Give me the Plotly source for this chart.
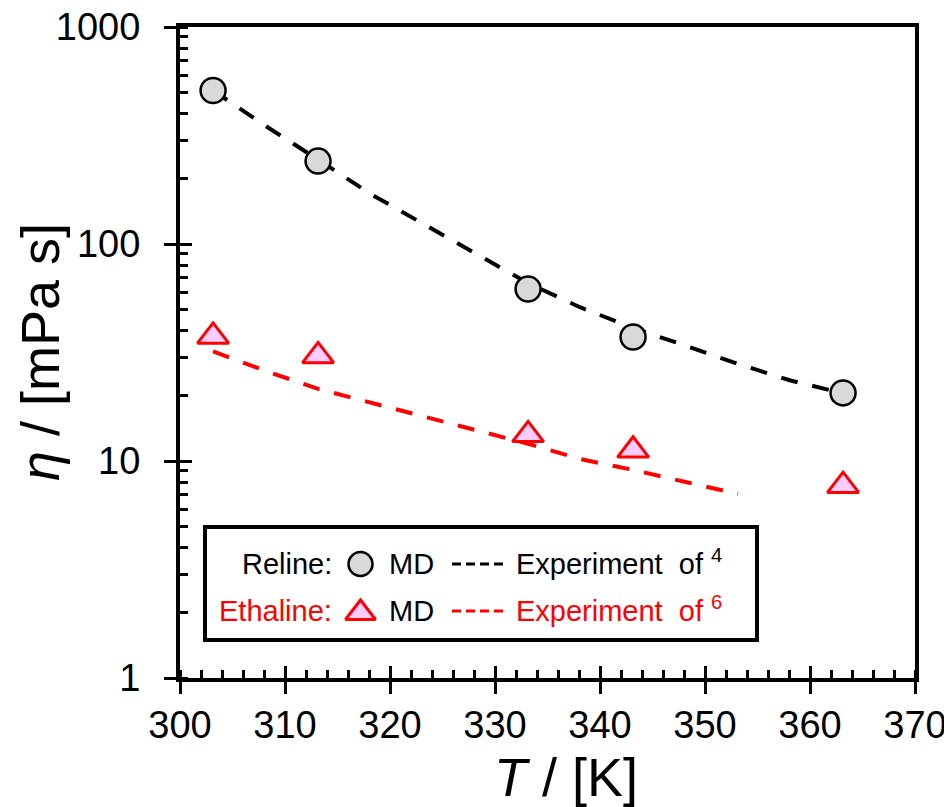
import plotly.graph_objects as go

# ---------------- data ----------------
T_md = [303.15, 313.15, 333.15, 343.15, 363.15]
eta_reline_md = [510, 241, 62, 37.3, 20.6]
eta_ethaline_md = [37.5, 30.5, 13.2, 11.2, 7.7]

T_exp_reline = [303.15, 308.15, 313.15, 318.15, 323.15, 328.15, 333.15,
                338.15, 343.15, 348.15, 353.15, 358.15, 363.15]
eta_exp_reline = [510, 350, 245, 170, 124, 90, 66, 51, 41, 34, 28, 23.5, 20.5]

T_exp_ethaline = [303.15, 308.15, 313.15, 318.15, 323.15, 328.15, 333.15,
                  338.15, 343.15, 348.15, 353.15]
eta_exp_ethaline = [32, 26, 21.5, 18.6, 16, 13.8, 12.0, 10.2, 9.1, 8.0, 7.05]

x_ticks = [300, 310, 320, 330, 340, 350, 360, 370]
y_ticks = [1, 10, 100, 1000]
y_tick_labels = ["1", "10", "100", "1000"]

FONT = "Arial, Liberation Sans, sans-serif"
W, H = 952, 807
OFF = 8                              # page body margin
L, R, T, B = 180, 915, 27, 678       # plot area in screen pixels


def px(x):
    return (x - L) / (R - L)


def py(y):
    return (B - y) / (B - T)


fig = go.Figure()

# experiment lines
fig.add_trace(go.Scatter(x=T_exp_reline, y=eta_exp_reline, mode="lines",
                         line=dict(color="black", width=4, dash="17px,15px"),
                         showlegend=False, hoverinfo="skip"))
fig.add_trace(go.Scatter(x=T_exp_ethaline, y=eta_exp_ethaline, mode="lines",
                         line=dict(color="#ff0000", width=4, dash="17px,15px"),
                         showlegend=False, hoverinfo="skip"))
# MD points
fig.add_trace(go.Scatter(x=T_md, y=eta_reline_md, mode="markers",
                         marker=dict(symbol="circle", size=25, color="#d9d9d9",
                                     line=dict(color="black", width=2.5)),
                         showlegend=False))
fig.add_trace(go.Scatter(x=T_md, y=eta_ethaline_md, mode="markers",
                         marker=dict(symbol="triangle-up", size=27, color="#ffccff",
                                     line=dict(color="#ff0000", width=3)),
                         showlegend=False))

# overlay axes carrying the inner half of the major ticks
fig.add_trace(go.Scatter(x=T_md, y=eta_reline_md, xaxis="x2", yaxis="y2",
                         mode="markers", marker=dict(opacity=0),
                         showlegend=False, hoverinfo="skip"))

# pixel-coordinate axes for the legend box
fig.add_trace(go.Scatter(x=[360.5], y=[564], xaxis="x3", yaxis="y3", mode="markers",
                         marker=dict(symbol="circle", size=24, color="#d9d9d9",
                                     line=dict(color="black", width=2.5)),
                         showlegend=False, hoverinfo="skip"))
fig.add_trace(go.Scatter(x=[360.5], y=[613], xaxis="x3", yaxis="y3", mode="markers",
                         marker=dict(symbol="triangle-up", size=26, color="#ffccff",
                                     line=dict(color="#ff0000", width=3)),
                         showlegend=False, hoverinfo="skip"))
fig.add_trace(go.Scatter(x=[452, 507], y=[564, 564], xaxis="x3", yaxis="y3", mode="lines",
                         line=dict(color="black", width=3, dash="9px,5px"),
                         showlegend=False, hoverinfo="skip"))
fig.add_trace(go.Scatter(x=[452, 507], y=[611, 611], xaxis="x3", yaxis="y3", mode="lines",
                         line=dict(color="#ff0000", width=3, dash="9px,5px"),
                         showlegend=False, hoverinfo="skip"))

fig.add_shape(type="rect", xref="x3", yref="y3", x0=205, x1=757, y0=527, y1=640,
              line=dict(color="black", width=4), fillcolor="white", layer="below")

ann = []


def txt(x, y, s, color="black", xanchor="left", size=29, paper=False, **kw):
    if paper:
        ref = dict(x=px(x), y=py(y), xref="paper", yref="paper")
    else:
        ref = dict(x=x, y=y, xref="x3", yref="y3")
    ann.append(dict(text=s, showarrow=False, xanchor=xanchor, yanchor="middle",
                    font=dict(family=FONT, size=size, color=color), **ref, **kw))


txt(334, 564, "Reline:", xanchor="right")
txt(387, 564, "MD")
txt(514, 562, "Experiment  of <sup>4</sup>")
txt(334, 611, "Ethaline:", color="#ff0000", xanchor="right")
txt(387, 611, "MD")
txt(514, 609, "Experiment  of <sup>6</sup>", color="#ff0000")

# axis titles
txt(566, 777, "<i>T</i> / [K]", xanchor="center", size=54, paper=True)
txt(40, 352, "<i>η</i> / [mPa s]", xanchor="center", size=54, paper=True,
    textangle=-90)

axis_common = dict(showline=True, linecolor="black", linewidth=4, showgrid=False,
                   zeroline=False, ticks="outside", ticklen=12, tickwidth=3,
                   tickcolor="black", automargin=False, ticklabeloverflow="allow",
                   tickfont=dict(family=FONT, size=38, color="black"))

fig.update_layout(
    width=W, height=H,
    margin=dict(l=L - OFF, r=W - R + OFF, t=T - OFF, b=H - B + OFF, pad=0,
                autoexpand=False),
    plot_bgcolor="white", paper_bgcolor="white",
    annotations=ann,
    xaxis=dict(range=[300, 370], tickvals=x_ticks, mirror=True,
               minor=dict(ticks="inside", dtick=2, ticklen=8, tickwidth=3,
                          tickcolor="black", showgrid=False),
               ticklabelstandoff=-2, **axis_common),
    yaxis=dict(type="log", range=[0, 3], tickvals=y_ticks, ticktext=y_tick_labels,
               mirror=True,
               minor=dict(ticks="inside", dtick="D1", ticklen=8, tickwidth=3,
                          tickcolor="black", showgrid=False),
               ticklabelstandoff=16, **axis_common),
    xaxis2=dict(overlaying="x", range=[300, 370], tickvals=x_ticks, ticks="inside",
                ticklen=12, tickwidth=3, tickcolor="black", showticklabels=False,
                showline=False, showgrid=False, zeroline=False, side="bottom",
                automargin=False),
    yaxis2=dict(overlaying="y", type="log", range=[0, 3], tickvals=y_ticks,
                ticks="inside", ticklen=12, tickwidth=3, tickcolor="black",
                showticklabels=False, showline=False, showgrid=False,
                zeroline=False, side="left", automargin=False),
    xaxis3=dict(overlaying="x", range=[L, R], visible=False, fixedrange=True),
    yaxis3=dict(overlaying="y", range=[B, T], visible=False, fixedrange=True),
)

fig.write_html("out.html")
